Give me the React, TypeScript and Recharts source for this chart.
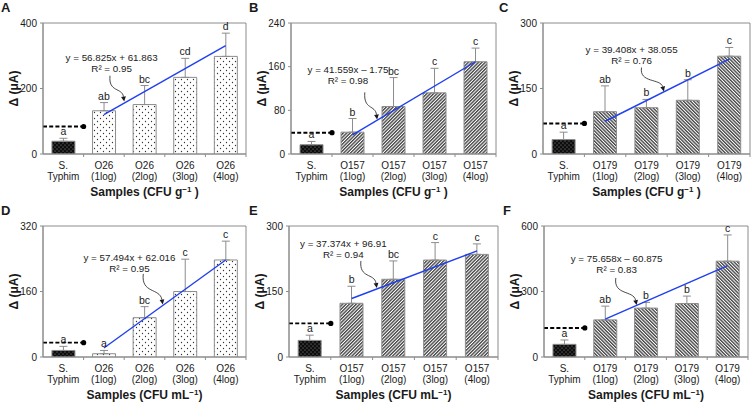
import React from "react";
import {
  ComposedChart,
  Bar,
  Line,
  XAxis,
  YAxis,
  ErrorBar,
  LabelList,
  Cell,
  Label,
  ReferenceLine,
  ReferenceDot,
  ReferenceArea,
} from "recharts";

const FONT = '"Liberation Sans", Arial, Helvetica, sans-serif';
const AXIS = "#8c8c8c";
const INK = "#1a1a1a";
const BLUE = "#1f3ff0";

// sample names
const o26Samples = ["S. Typhim", "O26 (1log)", "O26 (2log)", "O26 (3log)", "O26 (4log)"];
const o157Samples = ["S. Typhim", "O157 (1log)", "O157 (2log)", "O157 (3log)", "O157 (4log)"];
const o179Samples = ["S. Typhim", "O179 (1log)", "O179 (2log)", "O179 (3log)", "O179 (4log)"];

// A - O26, CFU g-1
const aValues = [39, 132, 151, 234, 298];
const aErrors = [9, 25, 58, 58, 71];
const aLetters = ["a", "ab", "bc", "cd", "d"];
const aTicks = [0, 200, 400];
const aTrend = [120, 331];
const aCutoff = 84;
const aEquation = ["y = 56.825x + 61.863", "R² = 0.95"];

// B - O157, CFU g-1
const bValues = [17, 40, 87, 112, 169];
const bErrors = [6, 25, 53, 45, 25];
const bLetters = ["a", "b", "bc", "c", "c"];
const bTicks = [0, 80, 160, 240];
const bTrend = [35, 169];
const bCutoff = 39;
const bEquation = ["y = 41.559x – 1.75", "R² = 0.98"];

// C - O179, CFU g-1
const cValues = [33, 97, 106, 123, 224];
const cErrors = [17, 59, 19, 47, 20];
const cLetters = ["a", "ab", "b", "b", "c"];
const cTicks = [0, 150, 300];
const cTrend = [75, 217];
const cCutoff = 70;
const cEquation = ["y = 39.408x + 38.055", "R² = 0.76"];

// D - O26, CFU mL-1
const dValues = [16, 8, 96, 160, 237];
const dErrors = [10, 8, 27, 79, 46];
const dLetters = ["a", "a", "bc", "c", "c"];
const dTicks = [0, 160, 320];
const dTrend = [22, 237];
const dCutoff = 35;
const dEquation = ["y = 57.494x + 62.016", "R² = 0.95"];

// E - O157, CFU mL-1
const eValues = [38, 123, 178, 222, 235];
const eErrors = [12, 39, 42, 40, 24];
const eLetters = ["a", "b", "bc", "c", "c"];
const eTicks = [0, 150, 300];
const eTrend = [134, 243];
const eCutoff = 77;
const eEquation = ["y = 37.374x + 96.91", "R² = 0.94"];

// F - O179, CFU mL-1
const fValues = [58, 170, 224, 245, 439];
const fErrors = [20, 63, 26, 34, 120];
const fLetters = ["a", "ab", "b", "b", "c"];
const fTicks = [0, 300, 600];
const fTrend = [173, 419];
const fCutoff = 133;
const fEquation = ["y = 75.658x – 60.875", "R² = 0.83"];

type Panel = {
  tag: string;
  left: number;
  top: number;
  width: number;
  right: number;
  tagX: number;
  samples: string[];
  values: number[];
  errors: number[];
  letters: string[];
  ticks: number[];
  trend: number[];
  cutoff: number;
  equation: string[];
  eqAt: number[];
  arrow: number[];
  fill: string;
  unit: string;
};

const panels: Panel[] = [
  { tag: "A", left: 0, top: 0, width: 252, right: 6, tagX: 1, samples: o26Samples, values: aValues, errors: aErrors, letters: aLetters, ticks: aTicks, trend: aTrend, cutoff: aCutoff, equation: aEquation, eqAt: [1.69, 295], arrow: [1.65, 239, 2.0, 160], fill: "dotsWhite", unit: "g" },
  { tag: "B", left: 248, top: 0, width: 254, right: 6, tagX: 249, samples: o157Samples, values: bValues, errors: bErrors, letters: bLetters, ticks: bTicks, trend: bTrend, cutoff: bCutoff, equation: bEquation, eqAt: [1.39, 155], arrow: [1.8, 113, 2.1, 63], fill: "hatchUp", unit: "g" },
  { tag: "C", left: 500, top: 0, width: 256, right: 6, tagX: 499, samples: o179Samples, values: cValues, errors: cErrors, letters: cLetters, ticks: cTicks, trend: cTrend, cutoff: cCutoff, equation: cEquation, eqAt: [2.14, 240], arrow: [2.38, 198, 2.92, 143], fill: "hatchDown", unit: "g" },
  { tag: "D", left: 0, top: 203, width: 252, right: 6, tagX: 1, samples: o26Samples, values: dValues, errors: dErrors, letters: dLetters, ticks: dTicks, trend: dTrend, cutoff: dCutoff, equation: dEquation, eqAt: [2.13, 243], arrow: [2.47, 203, 2.95, 128], fill: "dotsWhite", unit: "mL" },
  { tag: "E", left: 246, top: 203, width: 258, right: 6, tagX: 249, samples: o157Samples, values: eValues, errors: eErrors, letters: eLetters, ticks: eTicks, trend: eTrend, cutoff: eCutoff, equation: eEquation, eqAt: [1.3, 260], arrow: [1.72, 220, 2.1, 158], fill: "hatchUp", unit: "mL" },
  { tag: "F", left: 501, top: 203, width: 253, right: 6, tagX: 503, samples: o179Samples, values: fValues, errors: fErrors, letters: fLetters, ticks: fTicks, trend: fTrend, cutoff: fCutoff, equation: fEquation, eqAt: [1.78, 449], arrow: [1.76, 362, 2.27, 238], fill: "hatchDown", unit: "mL" },
];

function SampleTick(props: any) {
  const { x, y, payload, band } = props;
  const [first, ...rest] = String(payload.value).split(" ");
  return (
    <g>
      <line x1={x + band / 2} x2={x + band / 2} y1={y} y2={y + 3} stroke={AXIS} />
      <text x={x} y={y} textAnchor="middle" fill={INK} fontSize={10} fontFamily={FONT}>
        <tspan x={x} dy={14.5}>{first}</tspan>
        <tspan x={x} dy={11.5}>{rest.join(" ")}</tspan>
      </text>
    </g>
  );
}

function XTitle({ viewBox, unit }: any) {
  const cx = viewBox.x + viewBox.width / 2;
  const y = viewBox.y + 42;
  return (
    <text x={cx} y={y} textAnchor="middle" fontWeight="bold" fontSize={12} fill={INK} fontFamily={FONT}>
      {`Samples (CFU ${unit}`}
      <tspan dy={-4} fontSize={8}>−1</tspan>
      <tspan dy={4}>{unit === "g" ? " )" : ")"}</tspan>
    </text>
  );
}

function YTitle({ viewBox }: any) {
  const cx = viewBox.x + viewBox.width - 29;
  const cy = viewBox.y + viewBox.height / 2;
  return (
    <text
      x={cx}
      y={cy}
      transform={`rotate(-90 ${cx} ${cy})`}
      textAnchor="middle"
      dominantBaseline="central"
      fontWeight="bold"
      fontSize={12}
      fill={INK}
      fontFamily={FONT}
    >
      Δ (μA)
    </text>
  );
}

function Equation({ cx, cy, lines }: any) {
  return (
    <text x={cx} y={cy} textAnchor="middle" fill={INK} fontSize={9.8} fontFamily={FONT}>
      <tspan x={cx} dy={3.5}>{lines[0]}</tspan>
      <tspan x={cx} dy={11}>{lines[1]}</tspan>
    </text>
  );
}

function CurvedArrow(props: any) {
  const { x1, y1, x2, y2 } = props;
  const dx = x2 - x1;
  const dy = y2 - y1;
  const c1x = x1 - dx * 0.12;
  const c1y = y1 + dy * 0.65;
  const c2x = x2 - dx * 0.15;
  const c2y = y2 - dy * 0.55;
  const tx = x2 - c2x;
  const ty = y2 - c2y;
  const len = Math.hypot(tx, ty) || 1;
  const ux = tx / len;
  const uy = ty / len;
  const bx = x2 - ux * 5;
  const by = y2 - uy * 5;
  const head = `${x2},${y2} ${bx - uy * 2.4},${by + ux * 2.4} ${bx + uy * 2.4},${by - ux * 2.4}`;
  return (
    <g>
      <path d={`M${x1},${y1} C${c1x},${c1y} ${c2x},${c2y} ${bx},${by}`} fill="none" stroke={INK} strokeWidth={0.8} />
      <polygon points={head} fill={INK} />
    </g>
  );
}

function PanelChart({ p }: { p: Panel }) {
  const rows = p.samples.map((name, i) => ({
    name,
    pos: i + 0.5,
    value: p.values[i],
    err: [0, p.errors[i]],
    top: p.values[i] + p.errors[i],
    letter: p.letters[i],
  }));
  const max = p.ticks[p.ticks.length - 1];
  const band = (p.width - 43 - p.right) / p.samples.length;

  return (
    <div style={{ position: "absolute", left: p.left, top: p.top }}>
      <ComposedChart
        width={p.width}
        height={200}
        data={rows}
        margin={{ top: 23, right: p.right, bottom: 16, left: 0 }}
        barCategoryGap="22%"
      >
        <XAxis
          xAxisId="cat"
          dataKey="name"
          interval={0}
          height={30}
          tickLine={false}
          tickSize={0}
          tickMargin={0}
          axisLine={{ stroke: AXIS }}
          tick={(t: any) => <SampleTick {...t} band={band} />}
        >
          <Label content={(lp: any) => <XTitle viewBox={lp.viewBox} unit={p.unit} />} />
        </XAxis>
        <XAxis xAxisId="num" dataKey="pos" type="number" domain={[0, 5]} hide allowDataOverflow />
        <YAxis
          domain={[0, max]}
          ticks={p.ticks}
          width={43}
          tickSize={3}
          tickMargin={3}
          allowDataOverflow
          axisLine={{ stroke: AXIS }}
          tickLine={{ stroke: AXIS }}
          tick={{ fill: INK, fontSize: 10, fontFamily: FONT }}
        >
          <Label content={(lp: any) => <YTitle viewBox={lp.viewBox} />} />
        </YAxis>
        <ReferenceArea xAxisId="num" x1={0} x2={5} y1={0} y2={max} fill="none" stroke={AXIS} ifOverflow="visible" />
        <Bar xAxisId="cat" dataKey="value" stroke="#8d8d8d" strokeWidth={1} isAnimationActive={false}>
          {rows.map((r, i) => (
            <Cell key={r.name} fill={i === 0 ? "url(#dotsBlack)" : `url(#${p.fill})`} />
          ))}
          <ErrorBar dataKey="err" width={4} stroke={AXIS} strokeWidth={1} direction="y" />
        </Bar>
        <Line xAxisId="cat" dataKey="top" stroke="none" dot={false} activeDot={false} isAnimationActive={false}>
          <LabelList dataKey="letter" position="top" offset={3} fill={INK} fontSize={10.5} fontFamily={FONT} />
        </Line>
        <ReferenceLine
          xAxisId="num"
          segment={[{ x: 0, y: p.cutoff }, { x: 1, y: p.cutoff }]}
          stroke="#000"
          strokeWidth={1.9}
          strokeDasharray="4 2.2"
        />
        <ReferenceDot xAxisId="num" x={1} y={p.cutoff} r={2.6} fill="#000" stroke="none" />
        <ReferenceLine
          xAxisId="num"
          segment={[{ x: 1.5, y: p.trend[0] }, { x: 4.5, y: p.trend[1] }]}
          stroke={BLUE}
          strokeWidth={1.4}
        />
        <ReferenceDot
          xAxisId="num"
          x={p.eqAt[0]}
          y={p.eqAt[1]}
          shape={(sp: any) => <Equation cx={sp.cx} cy={sp.cy} lines={p.equation} />}
        />
        <ReferenceLine
          xAxisId="num"
          segment={[{ x: p.arrow[0], y: p.arrow[1] }, { x: p.arrow[2], y: p.arrow[3] }]}
          shape={(lp: any) => <CurvedArrow {...lp} />}
        />
      </ComposedChart>
      <div
        style={{
          position: "absolute",
          left: p.tagX - p.left,
          top: 1,
          fontFamily: FONT,
          fontWeight: "bold",
          fontSize: 13,
          lineHeight: "13px",
          color: INK,
        }}
      >
        {p.tag}
      </div>
    </div>
  );
}

export default function App() {
  return (
    <div style={{ position: "absolute", left: 0, top: 0, width: 756, height: 403, background: "#fff" }}>
      <svg width={0} height={0} style={{ position: "absolute" }}>
        <defs>
          <pattern id="dotsBlack" width={4} height={4} patternUnits="userSpaceOnUse">
            <rect width={4} height={4} fill="#0d0d0d" />
            <circle cx={1} cy={1} r={0.55} fill="#9a9a9a" />
            <circle cx={3} cy={3} r={0.55} fill="#9a9a9a" />
          </pattern>
          <pattern id="dotsWhite" width={6} height={6} patternUnits="userSpaceOnUse">
            <rect width={6} height={6} fill="#fff" />
            <circle cx={1.5} cy={1.5} r={0.65} fill="#333" />
            <circle cx={4.5} cy={4.5} r={0.65} fill="#333" />
          </pattern>
          <pattern id="hatchUp" width={2.4} height={2.4} patternUnits="userSpaceOnUse" patternTransform="rotate(45)">
            <rect width={2.4} height={2.4} fill="#fff" />
            <line x1={0.7} y1={0} x2={0.7} y2={2.4} stroke="#2a2a2a" strokeWidth={1.2} />
          </pattern>
          <pattern id="hatchDown" width={2.4} height={2.4} patternUnits="userSpaceOnUse" patternTransform="rotate(-45)">
            <rect width={2.4} height={2.4} fill="#fff" />
            <line x1={0.7} y1={0} x2={0.7} y2={2.4} stroke="#2a2a2a" strokeWidth={1.2} />
          </pattern>
        </defs>
      </svg>
      {panels.map((p) => (
        <PanelChart key={p.tag} p={p} />
      ))}
    </div>
  );
}
